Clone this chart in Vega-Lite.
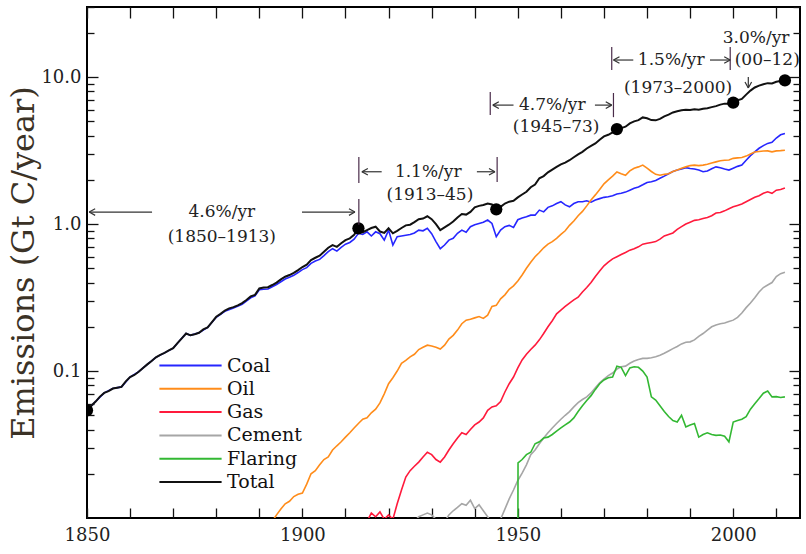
{
"$schema": "https://vega.github.io/schema/vega-lite/v6.json",
"width": 713, "height": 511,
"autosize": "none",
"padding": {"left": 87, "top": 7, "right": 6, "bottom": 36},
"background": "white",
"config": {"view": {"stroke": "#000", "strokeWidth": 2}, "font": "DejaVu Serif",
  "axis": {"domain": false, "grid": false, "labelFont": "DejaVu Serif", "labelFontSize": 18, "labelColor": "#222", "tickColor": "#111", "tickWidth": 1.3, "labelOverlap": false, "labelBound": false, "labelFlush": false}},
"datasets": {
"emis": [
{"series":"Total","year":1850,"value":0.054},{"series":"Total","year":1851,"value":0.058},{"series":"Total","year":1852,"value":0.062},{"series":"Total","year":1853,"value":0.067},{"series":"Total","year":1854,"value":0.071},{"series":"Total","year":1855,"value":0.073},{"series":"Total","year":1856,"value":0.076},{"series":"Total","year":1857,"value":0.077},{"series":"Total","year":1858,"value":0.078},{"series":"Total","year":1859,"value":0.085},{"series":"Total","year":1860,"value":0.091},{"series":"Total","year":1861,"value":0.094},{"series":"Total","year":1862,"value":0.099},{"series":"Total","year":1863,"value":0.105},{"series":"Total","year":1864,"value":0.111},{"series":"Total","year":1865,"value":0.117},{"series":"Total","year":1866,"value":0.124},{"series":"Total","year":1867,"value":0.129},{"series":"Total","year":1868,"value":0.133},{"series":"Total","year":1869,"value":0.138},{"series":"Total","year":1870,"value":0.143},{"series":"Total","year":1871,"value":0.155},{"series":"Total","year":1872,"value":0.167},{"series":"Total","year":1873,"value":0.18},{"series":"Total","year":1874,"value":0.175},{"series":"Total","year":1875,"value":0.178},{"series":"Total","year":1876,"value":0.182},{"series":"Total","year":1877,"value":0.192},{"series":"Total","year":1878,"value":0.198},{"series":"Total","year":1879,"value":0.215},{"series":"Total","year":1880,"value":0.234},{"series":"Total","year":1881,"value":0.245},{"series":"Total","year":1882,"value":0.258},{"series":"Total","year":1883,"value":0.267},{"series":"Total","year":1884,"value":0.272},{"series":"Total","year":1885,"value":0.28},{"series":"Total","year":1886,"value":0.29},{"series":"Total","year":1887,"value":0.304},{"series":"Total","year":1888,"value":0.322},{"series":"Total","year":1889,"value":0.33},{"series":"Total","year":1890,"value":0.365},{"series":"Total","year":1891,"value":0.37},{"series":"Total","year":1892,"value":0.372},{"series":"Total","year":1893,"value":0.385},{"series":"Total","year":1894,"value":0.40},{"series":"Total","year":1895,"value":0.42},{"series":"Total","year":1896,"value":0.438},{"series":"Total","year":1897,"value":0.45},{"series":"Total","year":1898,"value":0.465},{"series":"Total","year":1899,"value":0.486},{"series":"Total","year":1900,"value":0.51},{"series":"Total","year":1901,"value":0.53},{"series":"Total","year":1902,"value":0.569},{"series":"Total","year":1903,"value":0.59},{"series":"Total","year":1904,"value":0.61},{"series":"Total","year":1905,"value":0.648},{"series":"Total","year":1906,"value":0.69},{"series":"Total","year":1907,"value":0.72},{"series":"Total","year":1908,"value":0.70},{"series":"Total","year":1909,"value":0.74},{"series":"Total","year":1910,"value":0.778},{"series":"Total","year":1911,"value":0.80},{"series":"Total","year":1912,"value":0.845},{"series":"Total","year":1913,"value":0.935},{"series":"Total","year":1914,"value":0.88},{"series":"Total","year":1915,"value":0.91},{"series":"Total","year":1916,"value":0.94},{"series":"Total","year":1917,"value":0.96},{"series":"Total","year":1918,"value":0.89},{"series":"Total","year":1919,"value":0.87},{"series":"Total","year":1920,"value":0.935},{"series":"Total","year":1921,"value":0.865},{"series":"Total","year":1922,"value":0.90},{"series":"Total","year":1923,"value":0.94},{"series":"Total","year":1924,"value":0.98},{"series":"Total","year":1925,"value":0.99},{"series":"Total","year":1926,"value":1.03},{"series":"Total","year":1927,"value":1.08},{"series":"Total","year":1928,"value":1.09},{"series":"Total","year":1929,"value":1.13},{"series":"Total","year":1930,"value":1.08},{"series":"Total","year":1931,"value":1.0},{"series":"Total","year":1932,"value":0.91},{"series":"Total","year":1933,"value":0.95},{"series":"Total","year":1934,"value":0.99},{"series":"Total","year":1935,"value":1.04},{"series":"Total","year":1936,"value":1.11},{"series":"Total","year":1937,"value":1.17},{"series":"Total","year":1938,"value":1.16},{"series":"Total","year":1939,"value":1.21},{"series":"Total","year":1940,"value":1.3},{"series":"Total","year":1941,"value":1.33},{"series":"Total","year":1942,"value":1.35},{"series":"Total","year":1943,"value":1.38},{"series":"Total","year":1944,"value":1.36},{"series":"Total","year":1945,"value":1.26},{"series":"Total","year":1946,"value":1.31},{"series":"Total","year":1947,"value":1.38},{"series":"Total","year":1948,"value":1.42},{"series":"Total","year":1949,"value":1.44},{"series":"Total","year":1950,"value":1.52},{"series":"Total","year":1951,"value":1.59},{"series":"Total","year":1952,"value":1.66},{"series":"Total","year":1953,"value":1.78},{"series":"Total","year":1954,"value":1.86},{"series":"Total","year":1955,"value":2.05},{"series":"Total","year":1956,"value":2.12},{"series":"Total","year":1957,"value":2.25},{"series":"Total","year":1958,"value":2.35},{"series":"Total","year":1959,"value":2.45},{"series":"Total","year":1960,"value":2.55},{"series":"Total","year":1961,"value":2.62},{"series":"Total","year":1962,"value":2.72},{"series":"Total","year":1963,"value":2.85},{"series":"Total","year":1964,"value":2.98},{"series":"Total","year":1965,"value":3.1},{"series":"Total","year":1966,"value":3.27},{"series":"Total","year":1967,"value":3.4},{"series":"Total","year":1968,"value":3.54},{"series":"Total","year":1969,"value":3.75},{"series":"Total","year":1970,"value":3.95},{"series":"Total","year":1971,"value":4.05},{"series":"Total","year":1972,"value":4.2},{"series":"Total","year":1973,"value":4.43},{"series":"Total","year":1974,"value":4.5},{"series":"Total","year":1975,"value":4.6},{"series":"Total","year":1976,"value":4.84},{"series":"Total","year":1977,"value":5.0},{"series":"Total","year":1978,"value":5.1},{"series":"Total","year":1979,"value":5.32},{"series":"Total","year":1980,"value":5.25},{"series":"Total","year":1981,"value":5.1},{"series":"Total","year":1982,"value":5.08},{"series":"Total","year":1983,"value":5.2},{"series":"Total","year":1984,"value":5.4},{"series":"Total","year":1985,"value":5.55},{"series":"Total","year":1986,"value":5.75},{"series":"Total","year":1987,"value":5.85},{"series":"Total","year":1988,"value":5.95},{"series":"Total","year":1989,"value":6.0},{"series":"Total","year":1990,"value":5.97},{"series":"Total","year":1991,"value":6.05},{"series":"Total","year":1992,"value":6.0},{"series":"Total","year":1993,"value":6.1},{"series":"Total","year":1994,"value":6.15},{"series":"Total","year":1995,"value":6.25},{"series":"Total","year":1996,"value":6.35},{"series":"Total","year":1997,"value":6.5},{"series":"Total","year":1998,"value":6.6},{"series":"Total","year":1999,"value":6.6},{"series":"Total","year":2000,"value":6.7},{"series":"Total","year":2001,"value":6.95},{"series":"Total","year":2002,"value":7.1},{"series":"Total","year":2003,"value":7.6},{"series":"Total","year":2004,"value":8.1},{"series":"Total","year":2005,"value":8.5},{"series":"Total","year":2006,"value":8.75},{"series":"Total","year":2007,"value":8.95},{"series":"Total","year":2008,"value":9.1},{"series":"Total","year":2009,"value":9.05},{"series":"Total","year":2010,"value":9.3},{"series":"Total","year":2011,"value":9.4},{"series":"Total","year":2012,"value":9.5},

{"series":"Coal","year":1850,"value":0.054},{"series":"Coal","year":1852,"value":0.062},{"series":"Coal","year":1854,"value":0.071},{"series":"Coal","year":1856,"value":0.076},{"series":"Coal","year":1858,"value":0.078},{"series":"Coal","year":1860,"value":0.091},{"series":"Coal","year":1862,"value":0.099},{"series":"Coal","year":1864,"value":0.111},{"series":"Coal","year":1866,"value":0.124},{"series":"Coal","year":1868,"value":0.133},{"series":"Coal","year":1870,"value":0.143},{"series":"Coal","year":1872,"value":0.167},{"series":"Coal","year":1873,"value":0.18},{"series":"Coal","year":1874,"value":0.175},{"series":"Coal","year":1876,"value":0.182},{"series":"Coal","year":1878,"value":0.198},{"series":"Coal","year":1880,"value":0.232},{"series":"Coal","year":1882,"value":0.255},{"series":"Coal","year":1884,"value":0.268},{"series":"Coal","year":1886,"value":0.285},{"series":"Coal","year":1888,"value":0.315},{"series":"Coal","year":1889,"value":0.325},{"series":"Coal","year":1890,"value":0.357},{"series":"Coal","year":1891,"value":0.36},{"series":"Coal","year":1892,"value":0.362},{"series":"Coal","year":1893,"value":0.375},{"series":"Coal","year":1894,"value":0.388},{"series":"Coal","year":1895,"value":0.405},{"series":"Coal","year":1896,"value":0.423},{"series":"Coal","year":1897,"value":0.435},{"series":"Coal","year":1898,"value":0.448},{"series":"Coal","year":1899,"value":0.468},{"series":"Coal","year":1900,"value":0.49},{"series":"Coal","year":1901,"value":0.505},{"series":"Coal","year":1902,"value":0.54},{"series":"Coal","year":1903,"value":0.56},{"series":"Coal","year":1904,"value":0.575},{"series":"Coal","year":1905,"value":0.61},{"series":"Coal","year":1906,"value":0.65},{"series":"Coal","year":1907,"value":0.68},{"series":"Coal","year":1908,"value":0.655},{"series":"Coal","year":1909,"value":0.695},{"series":"Coal","year":1910,"value":0.73},{"series":"Coal","year":1911,"value":0.75},{"series":"Coal","year":1912,"value":0.79},{"series":"Coal","year":1913,"value":0.865},{"series":"Coal","year":1914,"value":0.85},{"series":"Coal","year":1915,"value":0.886},{"series":"Coal","year":1916,"value":0.83},{"series":"Coal","year":1917,"value":0.886},{"series":"Coal","year":1918,"value":0.86},{"series":"Coal","year":1919,"value":0.778},{"series":"Coal","year":1920,"value":0.91},{"series":"Coal","year":1921,"value":0.72},{"series":"Coal","year":1922,"value":0.82},{"series":"Coal","year":1923,"value":0.83},{"series":"Coal","year":1924,"value":0.84},{"series":"Coal","year":1925,"value":0.85},{"series":"Coal","year":1926,"value":0.87},{"series":"Coal","year":1927,"value":0.91},{"series":"Coal","year":1928,"value":0.90},{"series":"Coal","year":1929,"value":0.935},{"series":"Coal","year":1930,"value":0.86},{"series":"Coal","year":1931,"value":0.76},{"series":"Coal","year":1932,"value":0.68},{"series":"Coal","year":1933,"value":0.72},{"series":"Coal","year":1934,"value":0.778},{"series":"Coal","year":1935,"value":0.80},{"series":"Coal","year":1936,"value":0.865},{"series":"Coal","year":1937,"value":0.91},{"series":"Coal","year":1938,"value":0.88},{"series":"Coal","year":1939,"value":0.96},{"series":"Coal","year":1940,"value":0.99},{"series":"Coal","year":1941,"value":1.01},{"series":"Coal","year":1942,"value":1.03},{"series":"Coal","year":1943,"value":1.065},{"series":"Coal","year":1944,"value":1.01},{"series":"Coal","year":1945,"value":0.82},{"series":"Coal","year":1946,"value":0.91},{"series":"Coal","year":1947,"value":0.96},{"series":"Coal","year":1948,"value":0.98},{"series":"Coal","year":1949,"value":0.95},{"series":"Coal","year":1950,"value":1.07},{"series":"Coal","year":1951,"value":1.1},{"series":"Coal","year":1952,"value":1.12},{"series":"Coal","year":1953,"value":1.15},{"series":"Coal","year":1954,"value":1.15},{"series":"Coal","year":1955,"value":1.245},{"series":"Coal","year":1956,"value":1.21},{"series":"Coal","year":1957,"value":1.3},{"series":"Coal","year":1958,"value":1.33},{"series":"Coal","year":1959,"value":1.38},{"series":"Coal","year":1960,"value":1.42},{"series":"Coal","year":1961,"value":1.35},{"series":"Coal","year":1962,"value":1.31},{"series":"Coal","year":1963,"value":1.38},{"series":"Coal","year":1964,"value":1.42},{"series":"Coal","year":1965,"value":1.42},{"series":"Coal","year":1966,"value":1.44},{"series":"Coal","year":1967,"value":1.41},{"series":"Coal","year":1968,"value":1.457},{"series":"Coal","year":1969,"value":1.49},{"series":"Coal","year":1970,"value":1.52},{"series":"Coal","year":1971,"value":1.534},{"series":"Coal","year":1972,"value":1.56},{"series":"Coal","year":1973,"value":1.6},{"series":"Coal","year":1974,"value":1.62},{"series":"Coal","year":1975,"value":1.65},{"series":"Coal","year":1976,"value":1.7},{"series":"Coal","year":1977,"value":1.75},{"series":"Coal","year":1978,"value":1.79},{"series":"Coal","year":1979,"value":1.85},{"series":"Coal","year":1980,"value":1.92},{"series":"Coal","year":1981,"value":1.94},{"series":"Coal","year":1982,"value":1.98},{"series":"Coal","year":1983,"value":2.05},{"series":"Coal","year":1984,"value":2.12},{"series":"Coal","year":1985,"value":2.2},{"series":"Coal","year":1986,"value":2.28},{"series":"Coal","year":1987,"value":2.33},{"series":"Coal","year":1988,"value":2.37},{"series":"Coal","year":1989,"value":2.42},{"series":"Coal","year":1990,"value":2.39},{"series":"Coal","year":1991,"value":2.37},{"series":"Coal","year":1992,"value":2.33},{"series":"Coal","year":1993,"value":2.27},{"series":"Coal","year":1994,"value":2.3},{"series":"Coal","year":1995,"value":2.38},{"series":"Coal","year":1996,"value":2.45},{"series":"Coal","year":1997,"value":2.42},{"series":"Coal","year":1998,"value":2.37},{"series":"Coal","year":1999,"value":2.33},{"series":"Coal","year":2000,"value":2.4},{"series":"Coal","year":2001,"value":2.47},{"series":"Coal","year":2002,"value":2.52},{"series":"Coal","year":2003,"value":2.72},{"series":"Coal","year":2004,"value":2.92},{"series":"Coal","year":2005,"value":3.1},{"series":"Coal","year":2006,"value":3.28},{"series":"Coal","year":2007,"value":3.42},{"series":"Coal","year":2008,"value":3.54},{"series":"Coal","year":2009,"value":3.6},{"series":"Coal","year":2010,"value":3.85},{"series":"Coal","year":2011,"value":4.05},{"series":"Coal","year":2012,"value":4.14},

{"series":"Oil","year":1890,"value":0.007},{"series":"Oil","year":1893,"value":0.0095},{"series":"Oil","year":1894,"value":0.0105},{"series":"Oil","year":1895,"value":0.0115},{"series":"Oil","year":1896,"value":0.0125},{"series":"Oil","year":1897,"value":0.013},{"series":"Oil","year":1898,"value":0.014},{"series":"Oil","year":1899,"value":0.0145},{"series":"Oil","year":1900,"value":0.0148},{"series":"Oil","year":1901,"value":0.017},{"series":"Oil","year":1902,"value":0.02},{"series":"Oil","year":1903,"value":0.021},{"series":"Oil","year":1904,"value":0.023},{"series":"Oil","year":1905,"value":0.025},{"series":"Oil","year":1906,"value":0.026},{"series":"Oil","year":1907,"value":0.029},{"series":"Oil","year":1908,"value":0.031},{"series":"Oil","year":1909,"value":0.033},{"series":"Oil","year":1910,"value":0.0355},{"series":"Oil","year":1911,"value":0.038},{"series":"Oil","year":1912,"value":0.041},{"series":"Oil","year":1913,"value":0.044},{"series":"Oil","year":1914,"value":0.047},{"series":"Oil","year":1915,"value":0.048},{"series":"Oil","year":1916,"value":0.052},{"series":"Oil","year":1917,"value":0.055},{"series":"Oil","year":1918,"value":0.0607},{"series":"Oil","year":1919,"value":0.07},{"series":"Oil","year":1920,"value":0.082},{"series":"Oil","year":1921,"value":0.09},{"series":"Oil","year":1922,"value":0.1},{"series":"Oil","year":1923,"value":0.113},{"series":"Oil","year":1924,"value":0.118},{"series":"Oil","year":1925,"value":0.125},{"series":"Oil","year":1926,"value":0.13},{"series":"Oil","year":1927,"value":0.14},{"series":"Oil","year":1928,"value":0.145},{"series":"Oil","year":1929,"value":0.15},{"series":"Oil","year":1930,"value":0.148},{"series":"Oil","year":1931,"value":0.145},{"series":"Oil","year":1932,"value":0.141},{"series":"Oil","year":1933,"value":0.15},{"series":"Oil","year":1934,"value":0.165},{"series":"Oil","year":1935,"value":0.175},{"series":"Oil","year":1936,"value":0.19},{"series":"Oil","year":1937,"value":0.21},{"series":"Oil","year":1938,"value":0.222},{"series":"Oil","year":1939,"value":0.225},{"series":"Oil","year":1940,"value":0.23},{"series":"Oil","year":1941,"value":0.235},{"series":"Oil","year":1942,"value":0.228},{"series":"Oil","year":1943,"value":0.24},{"series":"Oil","year":1944,"value":0.275},{"series":"Oil","year":1945,"value":0.28},{"series":"Oil","year":1946,"value":0.31},{"series":"Oil","year":1947,"value":0.33},{"series":"Oil","year":1948,"value":0.36},{"series":"Oil","year":1949,"value":0.38},{"series":"Oil","year":1950,"value":0.41},{"series":"Oil","year":1951,"value":0.45},{"series":"Oil","year":1952,"value":0.5},{"series":"Oil","year":1953,"value":0.55},{"series":"Oil","year":1954,"value":0.6},{"series":"Oil","year":1955,"value":0.64},{"series":"Oil","year":1956,"value":0.69},{"series":"Oil","year":1957,"value":0.73},{"series":"Oil","year":1958,"value":0.76},{"series":"Oil","year":1959,"value":0.8},{"series":"Oil","year":1960,"value":0.85},{"series":"Oil","year":1961,"value":0.9},{"series":"Oil","year":1962,"value":0.98},{"series":"Oil","year":1963,"value":1.05},{"series":"Oil","year":1964,"value":1.14},{"series":"Oil","year":1965,"value":1.22},{"series":"Oil","year":1966,"value":1.33},{"series":"Oil","year":1967,"value":1.46},{"series":"Oil","year":1968,"value":1.58},{"series":"Oil","year":1969,"value":1.72},{"series":"Oil","year":1970,"value":1.88},{"series":"Oil","year":1971,"value":2.0},{"series":"Oil","year":1972,"value":2.12},{"series":"Oil","year":1973,"value":2.26},{"series":"Oil","year":1974,"value":2.2},{"series":"Oil","year":1975,"value":2.15},{"series":"Oil","year":1976,"value":2.3},{"series":"Oil","year":1977,"value":2.4},{"series":"Oil","year":1978,"value":2.45},{"series":"Oil","year":1979,"value":2.52},{"series":"Oil","year":1980,"value":2.4},{"series":"Oil","year":1981,"value":2.28},{"series":"Oil","year":1982,"value":2.18},{"series":"Oil","year":1983,"value":2.15},{"series":"Oil","year":1984,"value":2.18},{"series":"Oil","year":1985,"value":2.2},{"series":"Oil","year":1986,"value":2.28},{"series":"Oil","year":1987,"value":2.33},{"series":"Oil","year":1988,"value":2.4},{"series":"Oil","year":1989,"value":2.45},{"series":"Oil","year":1990,"value":2.5},{"series":"Oil","year":1991,"value":2.52},{"series":"Oil","year":1992,"value":2.5},{"series":"Oil","year":1993,"value":2.52},{"series":"Oil","year":1994,"value":2.55},{"series":"Oil","year":1995,"value":2.6},{"series":"Oil","year":1996,"value":2.65},{"series":"Oil","year":1997,"value":2.7},{"series":"Oil","year":1998,"value":2.72},{"series":"Oil","year":1999,"value":2.73},{"series":"Oil","year":2000,"value":2.8},{"series":"Oil","year":2001,"value":2.82},{"series":"Oil","year":2002,"value":2.84},{"series":"Oil","year":2003,"value":2.9},{"series":"Oil","year":2004,"value":3.0},{"series":"Oil","year":2005,"value":3.09},{"series":"Oil","year":2006,"value":3.12},{"series":"Oil","year":2007,"value":3.14},{"series":"Oil","year":2008,"value":3.15},{"series":"Oil","year":2009,"value":3.1},{"series":"Oil","year":2010,"value":3.15},{"series":"Oil","year":2011,"value":3.16},{"series":"Oil","year":2012,"value":3.18},

{"series":"Gas","year":1915,"value":0.0095},{"series":"Gas","year":1916,"value":0.0108},{"series":"Gas","year":1917,"value":0.0102},{"series":"Gas","year":1918,"value":0.011},{"series":"Gas","year":1919,"value":0.0098},{"series":"Gas","year":1920,"value":0.0105},{"series":"Gas","year":1921,"value":0.0098},{"series":"Gas","year":1922,"value":0.0125},{"series":"Gas","year":1923,"value":0.0155},{"series":"Gas","year":1924,"value":0.019},{"series":"Gas","year":1925,"value":0.021},{"series":"Gas","year":1926,"value":0.0225},{"series":"Gas","year":1927,"value":0.024},{"series":"Gas","year":1928,"value":0.026},{"series":"Gas","year":1929,"value":0.028},{"series":"Gas","year":1930,"value":0.027},{"series":"Gas","year":1931,"value":0.025},{"series":"Gas","year":1932,"value":0.024},{"series":"Gas","year":1933,"value":0.026},{"series":"Gas","year":1934,"value":0.029},{"series":"Gas","year":1935,"value":0.032},{"series":"Gas","year":1936,"value":0.035},{"series":"Gas","year":1937,"value":0.038},{"series":"Gas","year":1938,"value":0.037},{"series":"Gas","year":1939,"value":0.04},{"series":"Gas","year":1940,"value":0.043},{"series":"Gas","year":1941,"value":0.045},{"series":"Gas","year":1942,"value":0.048},{"series":"Gas","year":1943,"value":0.054},{"series":"Gas","year":1944,"value":0.057},{"series":"Gas","year":1945,"value":0.058},{"series":"Gas","year":1946,"value":0.062},{"series":"Gas","year":1947,"value":0.072},{"series":"Gas","year":1948,"value":0.082},{"series":"Gas","year":1949,"value":0.091},{"series":"Gas","year":1950,"value":0.105},{"series":"Gas","year":1951,"value":0.119},{"series":"Gas","year":1952,"value":0.13},{"series":"Gas","year":1953,"value":0.14},{"series":"Gas","year":1954,"value":0.15},{"series":"Gas","year":1955,"value":0.163},{"series":"Gas","year":1956,"value":0.18},{"series":"Gas","year":1957,"value":0.2},{"series":"Gas","year":1958,"value":0.22},{"series":"Gas","year":1959,"value":0.245},{"series":"Gas","year":1960,"value":0.26},{"series":"Gas","year":1961,"value":0.275},{"series":"Gas","year":1962,"value":0.29},{"series":"Gas","year":1963,"value":0.305},{"series":"Gas","year":1964,"value":0.318},{"series":"Gas","year":1965,"value":0.345},{"series":"Gas","year":1966,"value":0.37},{"series":"Gas","year":1967,"value":0.4},{"series":"Gas","year":1968,"value":0.44},{"series":"Gas","year":1969,"value":0.48},{"series":"Gas","year":1970,"value":0.52},{"series":"Gas","year":1971,"value":0.55},{"series":"Gas","year":1972,"value":0.58},{"series":"Gas","year":1973,"value":0.6},{"series":"Gas","year":1974,"value":0.62},{"series":"Gas","year":1975,"value":0.64},{"series":"Gas","year":1976,"value":0.665},{"series":"Gas","year":1977,"value":0.68},{"series":"Gas","year":1978,"value":0.7},{"series":"Gas","year":1979,"value":0.73},{"series":"Gas","year":1980,"value":0.74},{"series":"Gas","year":1981,"value":0.75},{"series":"Gas","year":1982,"value":0.76},{"series":"Gas","year":1983,"value":0.79},{"series":"Gas","year":1984,"value":0.83},{"series":"Gas","year":1985,"value":0.85},{"series":"Gas","year":1986,"value":0.87},{"series":"Gas","year":1987,"value":0.92},{"series":"Gas","year":1988,"value":0.96},{"series":"Gas","year":1989,"value":1.0},{"series":"Gas","year":1990,"value":1.03},{"series":"Gas","year":1991,"value":1.06},{"series":"Gas","year":1992,"value":1.07},{"series":"Gas","year":1993,"value":1.09},{"series":"Gas","year":1994,"value":1.11},{"series":"Gas","year":1995,"value":1.14},{"series":"Gas","year":1996,"value":1.19},{"series":"Gas","year":1997,"value":1.2},{"series":"Gas","year":1998,"value":1.23},{"series":"Gas","year":1999,"value":1.27},{"series":"Gas","year":2000,"value":1.31},{"series":"Gas","year":2001,"value":1.34},{"series":"Gas","year":2002,"value":1.37},{"series":"Gas","year":2003,"value":1.42},{"series":"Gas","year":2004,"value":1.47},{"series":"Gas","year":2005,"value":1.52},{"series":"Gas","year":2006,"value":1.56},{"series":"Gas","year":2007,"value":1.62},{"series":"Gas","year":2008,"value":1.66},{"series":"Gas","year":2009,"value":1.62},{"series":"Gas","year":2010,"value":1.7},{"series":"Gas","year":2011,"value":1.72},{"series":"Gas","year":2012,"value":1.76},

{"series":"Cement","year":1926,"value":0.0095},{"series":"Cement","year":1927,"value":0.0102},{"series":"Cement","year":1928,"value":0.0105},{"series":"Cement","year":1929,"value":0.0108},{"series":"Cement","year":1930,"value":0.0105},{"series":"Cement","year":1931,"value":0.0098},{"series":"Cement","year":1932,"value":0.0092},{"series":"Cement","year":1933,"value":0.0094},{"series":"Cement","year":1934,"value":0.0105},{"series":"Cement","year":1935,"value":0.0112},{"series":"Cement","year":1936,"value":0.0118},{"series":"Cement","year":1937,"value":0.0125},{"series":"Cement","year":1938,"value":0.0122},{"series":"Cement","year":1939,"value":0.0132},{"series":"Cement","year":1940,"value":0.0116},{"series":"Cement","year":1941,"value":0.0123},{"series":"Cement","year":1942,"value":0.0112},{"series":"Cement","year":1943,"value":0.0102},{"series":"Cement","year":1944,"value":0.0092},{"series":"Cement","year":1945,"value":0.0085},{"series":"Cement","year":1946,"value":0.0098},{"series":"Cement","year":1947,"value":0.0115},{"series":"Cement","year":1948,"value":0.0135},{"series":"Cement","year":1949,"value":0.0155},{"series":"Cement","year":1950,"value":0.018},{"series":"Cement","year":1951,"value":0.0202},{"series":"Cement","year":1952,"value":0.023},{"series":"Cement","year":1953,"value":0.027},{"series":"Cement","year":1954,"value":0.029},{"series":"Cement","year":1955,"value":0.032},{"series":"Cement","year":1956,"value":0.035},{"series":"Cement","year":1957,"value":0.038},{"series":"Cement","year":1958,"value":0.041},{"series":"Cement","year":1959,"value":0.044},{"series":"Cement","year":1960,"value":0.047},{"series":"Cement","year":1961,"value":0.05},{"series":"Cement","year":1962,"value":0.053},{"series":"Cement","year":1963,"value":0.057},{"series":"Cement","year":1964,"value":0.061},{"series":"Cement","year":1965,"value":0.064},{"series":"Cement","year":1966,"value":0.0667},{"series":"Cement","year":1967,"value":0.071},{"series":"Cement","year":1968,"value":0.077},{"series":"Cement","year":1969,"value":0.083},{"series":"Cement","year":1970,"value":0.088},{"series":"Cement","year":1971,"value":0.093},{"series":"Cement","year":1972,"value":0.097},{"series":"Cement","year":1973,"value":0.103},{"series":"Cement","year":1974,"value":0.107},{"series":"Cement","year":1975,"value":0.108},{"series":"Cement","year":1976,"value":0.113},{"series":"Cement","year":1977,"value":0.117},{"series":"Cement","year":1978,"value":0.12},{"series":"Cement","year":1979,"value":0.122},{"series":"Cement","year":1980,"value":0.122},{"series":"Cement","year":1981,"value":0.123},{"series":"Cement","year":1982,"value":0.125},{"series":"Cement","year":1983,"value":0.128},{"series":"Cement","year":1984,"value":0.132},{"series":"Cement","year":1985,"value":0.137},{"series":"Cement","year":1986,"value":0.142},{"series":"Cement","year":1987,"value":0.147},{"series":"Cement","year":1988,"value":0.153},{"series":"Cement","year":1989,"value":0.157},{"series":"Cement","year":1990,"value":0.158},{"series":"Cement","year":1991,"value":0.163},{"series":"Cement","year":1992,"value":0.172},{"series":"Cement","year":1993,"value":0.18},{"series":"Cement","year":1994,"value":0.19},{"series":"Cement","year":1995,"value":0.2},{"series":"Cement","year":1996,"value":0.206},{"series":"Cement","year":1997,"value":0.21},{"series":"Cement","year":1998,"value":0.212},{"series":"Cement","year":1999,"value":0.217},{"series":"Cement","year":2000,"value":0.222},{"series":"Cement","year":2001,"value":0.232},{"series":"Cement","year":2002,"value":0.248},{"series":"Cement","year":2003,"value":0.27},{"series":"Cement","year":2004,"value":0.29},{"series":"Cement","year":2005,"value":0.315},{"series":"Cement","year":2006,"value":0.345},{"series":"Cement","year":2007,"value":0.37},{"series":"Cement","year":2008,"value":0.385},{"series":"Cement","year":2009,"value":0.4},{"series":"Cement","year":2010,"value":0.44},{"series":"Cement","year":2011,"value":0.46},{"series":"Cement","year":2012,"value":0.47},

{"series":"Flaring","year":1950,"value":0.005},{"series":"Flaring","year":1950.05,"value":0.0237},{"series":"Flaring","year":1951,"value":0.025},{"series":"Flaring","year":1952,"value":0.027},{"series":"Flaring","year":1953,"value":0.028},{"series":"Flaring","year":1954,"value":0.032},{"series":"Flaring","year":1955,"value":0.033},{"series":"Flaring","year":1956,"value":0.035},{"series":"Flaring","year":1957,"value":0.0355},{"series":"Flaring","year":1958,"value":0.037},{"series":"Flaring","year":1959,"value":0.039},{"series":"Flaring","year":1960,"value":0.041},{"series":"Flaring","year":1961,"value":0.043},{"series":"Flaring","year":1962,"value":0.045},{"series":"Flaring","year":1963,"value":0.048},{"series":"Flaring","year":1964,"value":0.053},{"series":"Flaring","year":1965,"value":0.058},{"series":"Flaring","year":1966,"value":0.063},{"series":"Flaring","year":1967,"value":0.068},{"series":"Flaring","year":1968,"value":0.075},{"series":"Flaring","year":1969,"value":0.082},{"series":"Flaring","year":1970,"value":0.087},{"series":"Flaring","year":1971,"value":0.09},{"series":"Flaring","year":1972,"value":0.091},{"series":"Flaring","year":1973,"value":0.108},{"series":"Flaring","year":1974,"value":0.106},{"series":"Flaring","year":1975,"value":0.093},{"series":"Flaring","year":1976,"value":0.105},{"series":"Flaring","year":1977,"value":0.107},{"series":"Flaring","year":1978,"value":0.106},{"series":"Flaring","year":1979,"value":0.1},{"series":"Flaring","year":1980,"value":0.091},{"series":"Flaring","year":1981,"value":0.0667},{"series":"Flaring","year":1982,"value":0.0635},{"series":"Flaring","year":1983,"value":0.058},{"series":"Flaring","year":1984,"value":0.053},{"series":"Flaring","year":1985,"value":0.049},{"series":"Flaring","year":1986,"value":0.046},{"series":"Flaring","year":1987,"value":0.045},{"series":"Flaring","year":1988,"value":0.05},{"series":"Flaring","year":1989,"value":0.0417},{"series":"Flaring","year":1990,"value":0.043},{"series":"Flaring","year":1991,"value":0.044},{"series":"Flaring","year":1992,"value":0.0355},{"series":"Flaring","year":1993,"value":0.037},{"series":"Flaring","year":1994,"value":0.038},{"series":"Flaring","year":1995,"value":0.037},{"series":"Flaring","year":1996,"value":0.0365},{"series":"Flaring","year":1997,"value":0.0367},{"series":"Flaring","year":1998,"value":0.036},{"series":"Flaring","year":1999,"value":0.033},{"series":"Flaring","year":2000,"value":0.045},{"series":"Flaring","year":2001,"value":0.046},{"series":"Flaring","year":2002,"value":0.047},{"series":"Flaring","year":2003,"value":0.049},{"series":"Flaring","year":2004,"value":0.055},{"series":"Flaring","year":2005,"value":0.06},{"series":"Flaring","year":2006,"value":0.065},{"series":"Flaring","year":2007,"value":0.0707},{"series":"Flaring","year":2008,"value":0.073},{"series":"Flaring","year":2009,"value":0.0667},{"series":"Flaring","year":2010,"value":0.067},{"series":"Flaring","year":2011,"value":0.066},{"series":"Flaring","year":2012,"value":0.0667}
],
"dots": [{"year":1850,"value":0.054},{"year":1913,"value":0.935},{"year":1945,"value":1.26},{"year":1973,"value":4.43},{"year":2000,"value":6.7},{"year":2012,"value":9.5}],
"ann": [
{"kind":"bar","year":1913.1,"year2":1913.1,"value":2.86,"value2":1.9},
{"kind":"bar","year":1913.1,"year2":1913.1,"value":1.48,"value2":0.99},
{"kind":"bar","year":1945.2,"year2":1945.2,"value":2.86,"value2":1.93},
{"kind":"bar","year":1943.6,"year2":1943.6,"value":7.91,"value2":5.52},
{"kind":"bar","year":1972.2,"year2":1972.2,"value":7.8,"value2":5.34},
{"kind":"bar","year":1971.8,"year2":1971.8,"value":16.0,"value2":11.2},
{"kind":"bar","year":1999.3,"year2":1999.3,"value":16.0,"value2":11.2},
{"kind":"shaft","year":1850.5,"year2":1865.1,"value":1.207,"value2":1.207},
{"kind":"shaft","year":1899.9,"year2":1912.2,"value":1.207,"value2":1.207},
{"kind":"shaft","year":1913.8,"year2":1918.4,"value":2.27,"value2":2.27},
{"kind":"shaft","year":1940.5,"year2":1944.7,"value":2.27,"value2":2.27},
{"kind":"shaft","year":1944.2,"year2":1949.0,"value":6.45,"value2":6.45},
{"kind":"shaft","year":1967.9,"year2":1971.8,"value":6.45,"value2":6.45},
{"kind":"shaft","year":1972.2,"year2":1976.8,"value":13.07,"value2":13.07},
{"kind":"shaft","year":1994.6,"year2":1999.3,"value":13.07,"value2":13.07},
{"kind":"shaft","year":2003.5,"year2":2003.5,"value":10.0,"value2":8.43}
],
"heads": [
{"dir":"left","year":1850.5,"value":1.207},
{"dir":"right","year":1912.2,"value":1.207},
{"dir":"left","year":1913.8,"value":2.27},
{"dir":"right","year":1944.7,"value":2.27},
{"dir":"left","year":1944.2,"value":6.45},
{"dir":"right","year":1971.8,"value":6.45},
{"dir":"left","year":1972.2,"value":13.07},
{"dir":"right","year":1999.3,"value":13.07},
{"dir":"down","year":2003.5,"value":8.43}
],
"labels": [
{"label":"4.6%/yr","year":1881.3,"value":1.207},
{"label":"(1850–1913)","year":1881.3,"value":0.816},
{"label":"1.1%/yr","year":1929.2,"value":2.27},
{"label":"(1913–45)","year":1929.6,"value":1.575},
{"label":"4.7%/yr","year":1958.0,"value":6.45},
{"label":"(1945–73)","year":1958.9,"value":4.57},
{"label":"1.5%/yr","year":1985.6,"value":13.07},
{"label":"(1973–2000)","year":1987.2,"value":8.43},
{"label":"3.0%/yr","year":2005.3,"value":18.5},
{"label":"(00–12)","year":2007.9,"value":13.07}
]
},
"resolve": {"axis": {"x": "independent", "y": "independent"}},
"layer": [
{
 "data": {"name": "emis"},
 "transform": [{"filter": "datum.series !== 'Total'"}],
 "mark": {"type": "line", "clip": true, "strokeWidth": 1.6},
 "encoding": {
  "x": {"field": "year", "type": "quantitative", "scale": {"domain": [1850, 2015.5], "nice": false, "zero": false},
        "axis": {"orient": "bottom", "title": null, "values": [1850,1860,1870,1880,1890,1900,1910,1920,1930,1940,1950,1960,1970,1980,1990,2000,2010], "format": "d", "labelExpr": "datum.value % 50 === 0 ? datum.label : ''", "tickSize": -10, "labelPadding": 18}},
  "y": {"field": "value", "type": "quantitative", "scale": {"type": "log", "domain": [0.01, 30], "nice": false},
        "axis": {"orient": "left", "values": [0.1, 1, 10], "format": ".1f", "tickSize": -11, "labelPadding": 17, "title": "Emissions (Gt C/year)", "titleFont": "DejaVu Serif", "titleFontSize": 32, "titleFontWeight": "normal", "titleColor": "#3b3226", "titlePadding": 0}},
  "color": {"field": "series", "type": "nominal",
   "scale": {"domain": ["Coal","Oil","Gas","Cement","Flaring","Total"], "range": ["#2626ff","#ff8c1a","#ff1a3c","#a6a6a6","#33b833","#111111"]},
   "legend": {"orient": "none", "legendX": 92, "legendY": 347, "title": null, "symbolType": "M-3,0H3", "symbolSize": 430, "symbolStrokeWidth": 2, "labelFont": "DejaVu Serif", "labelFontSize": 19, "labelColor": "#111", "labelOffset": 25, "rowPadding": 1.3, "padding": 0}}
 }
},
{
 "data": {"name": "emis"},
 "transform": [{"filter": "datum.series === 'Total'"}],
 "mark": {"type": "line", "clip": true, "strokeWidth": 2},
 "encoding": {
  "x": {"field": "year", "type": "quantitative",
        "axis": {"orient": "top", "title": null, "values": [1850,1860,1870,1880,1890,1900,1910,1920,1930,1940,1950,1960,1970,1980,1990,2000,2010], "labels": false, "tickSize": -11}},
  "y": {"field": "value", "type": "quantitative",
        "axis": {"orient": "right", "values": [0.1, 1, 10], "labels": false, "tickSize": -11, "title": null}},
  "color": {"field": "series", "type": "nominal"}
 }
},
{
 "data": {"name": "dots"},
 "mark": {"type": "point", "filled": true, "clip": true, "size": 150, "color": "#000", "opacity": 1},
 "encoding": {
  "x": {"field": "year", "type": "quantitative", "axis": null},
  "y": {"field": "value", "type": "quantitative",
        "axis": {"orient": "left", "values": [0.02,0.03,0.04,0.05,0.06,0.07,0.08,0.09,0.2,0.3,0.4,0.5,0.6,0.7,0.8,0.9,2,3,4,5,6,7,8,9,20,30], "labels": false, "tickSize": -7, "title": null}}
 }
},
{
 "data": {"name": "ann"},
 "mark": {"type": "rule", "strokeWidth": 1.2},
 "encoding": {
  "x": {"field": "year", "type": "quantitative", "axis": null},
  "x2": {"field": "year2"},
  "y": {"field": "value", "type": "quantitative",
        "axis": {"orient": "right", "values": [0.02,0.03,0.04,0.05,0.06,0.07,0.08,0.09,0.2,0.3,0.4,0.5,0.6,0.7,0.8,0.9,2,3,4,5,6,7,8,9,20,30], "labels": false, "tickSize": -7, "title": null}},
  "y2": {"field": "value2"},
  "color": {"condition": {"test": "datum.kind === 'bar'", "value": "#4a2c4a"}, "value": "#333333"}
 }
},
{
 "data": {"name": "heads"},
 "mark": {"type": "point", "filled": false, "size": 144, "strokeWidth": 1.2, "color": "#333333", "opacity": 1},
 "encoding": {
  "x": {"field": "year", "type": "quantitative", "axis": null},
  "y": {"field": "value", "type": "quantitative", "axis": null},
  "shape": {"field": "dir", "type": "nominal", "legend": null,
   "scale": {"domain": ["left","right","down"], "range": ["M0,0L1,-0.55M0,0L1,0.55", "M0,0L-1,-0.55M0,0L-1,0.55", "M0,0L-0.55,-1M0,0L0.55,-1"]}}
 }
},
{
 "data": {"name": "labels"},
 "mark": {"type": "text", "font": "DejaVu Serif", "fontSize": 17, "color": "#222", "align": "center", "baseline": "middle"},
 "encoding": {
  "x": {"field": "year", "type": "quantitative", "axis": null},
  "y": {"field": "value", "type": "quantitative", "axis": null},
  "text": {"field": "label"}
 }
}
]
}
